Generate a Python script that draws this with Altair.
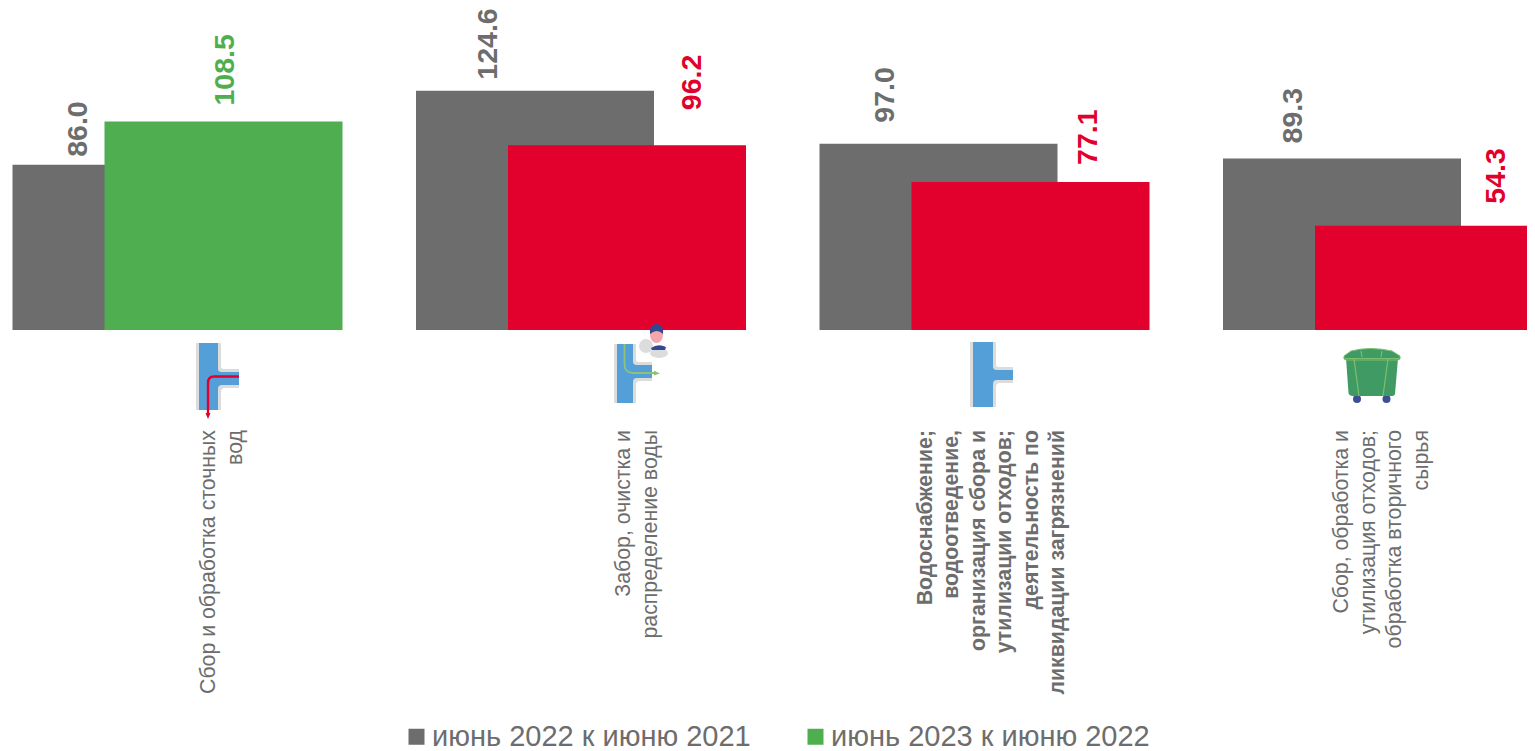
import base64
import altair as alt
import pandas as pd

categories = [
    "Сбор и обработка сточных\nвод",
    "Забор, очистка и\nраспределение воды",
    "Водоснабжение;\nводоотведение,\nорганизация сбора и\nутилизации отходов;\nдеятельность по\nликвидации загрязнений",
    "Сбор, обработка и\nутилизация отходов;\nобработка вторичного\nсырья",
]
series_a = [86.0, 124.6, 97.0, 89.3]
series_b = [108.5, 96.2, 77.1, 54.3]
name_a = "июнь 2022 к июню 2021"
name_b = "июнь 2023 к июню 2022"
name_down = "снижение"

GRAY, GREEN, RED = "#6d6d6d", "#4fae50", "#e2002c"
TEXT = "#6d6d6d"

# layout only: nudges of each label relative to its group's centre, (x, y above bar top)
NUDGE_A = [(-100, 8), (-93, 11), (-99.5, 21), (-95, 15)]
NUDGE_B = [(47, 16), (111, 35), (103, 17), (108, 22)]
CAT_NUDGE = [31.5, 43, -59, -46]
BAR_W, SHIFT = 238, 46
W, H, BASE = 1519, 743, 322
PX = 1.921


def svg(mid, body):
    s = (f'<svg xmlns="http://www.w3.org/2000/svg" width="200" height="105" '
         f'viewBox="{mid-100} 320 200 105">{body}</svg>')
    return "data:image/svg+xml;base64," + base64.b64encode(s.encode()).decode()


def tee(x0, x1, y0, y1, by0, by1, bx):
    halo = (f'<path d="M{x0-3} {y0} H{x1+3} V{by0-5} Q{x1+3} {by0-3} {x1+7} {by0-3} H{bx} V{by1+3} '
            f'H{x1+7} Q{x1+3} {by1+3} {x1+3} {by1+7} V{y1} H{x0-3} Z" fill="#dcdcdc"/>')
    pipe = (f'<path d="M{x0} {y0} H{x1} V{by0-3} Q{x1} {by0} {x1+4} {by0} H{bx} V{by1} '
            f'H{x1+4} Q{x1} {by1} {x1} {by1+4} V{y1} H{x0} Z" fill="#559fd9"/>')
    return halo + pipe


icon1 = svg(177.5, tee(199, 218, 343, 410, 372, 385, 239) +
            '<path d="M239 376.5 H214 Q208 376.5 208 383 V414" fill="none" stroke="#e2002c" stroke-width="2.4"/>'
            '<path d="M205.5 413 H210.5 L208 419 Z" fill="#e2002c"/>')
icon2 = svg(581, tee(617, 633, 344, 403, 365, 378, 652) +
            '<path d="M624.5 344 V364 Q624.5 373 633 373 H656" fill="none" stroke="#8cc474" stroke-width="1.8"/>'
            '<path d="M654 370.5 L660 373.5 L654 375.5 Z" fill="#8cc474"/>'
            '<ellipse cx="646" cy="346" rx="7" ry="7" fill="#dcdcdc"/>'
            '<ellipse cx="659" cy="353" rx="9" ry="5" fill="#dcdcdc"/>'
            '<path d="M651 348 Q658 343 666 347 L665 350 H652 Z" fill="#2f4a8f"/>'
            '<ellipse cx="656.5" cy="335" rx="6.5" ry="8" fill="#f5a6ad"/>'
            '<path d="M650 334 Q649 324 656.5 324 Q664 324 663 334 Q657 328 650 334 Z" fill="#2f4a8f"/>')
icon3 = svg(984.5, tee(973, 993, 342, 407, 370, 380, 1013))
icon4 = svg(1388, '<circle cx="1357" cy="399" r="4" fill="#3d4f94"/><circle cx="1386.5" cy="399" r="4" fill="#3d4f94"/>'
            '<path d="M1346 358 H1398 L1395 394 Q1394.500 396 1391 396 H1353 Q1349 396 1348.500 393 Z" fill="#3f9a63"/>'
            '<path d="M1344 356 L1351 351 Q1370 346 1392 351 L1400 356 V359 L1398 360 H1346 L1344 359 Z" fill="#3f9a63" stroke="#7cc06e" stroke-width="1"/>'
            '<path d="M1345 358.500 H1399 M1354 359 L1359 396 M1388 359 L1383 396 M1361 351 L1362 357 M1382 351 L1381 357" '
            'fill="none" stroke="#7cc06e" stroke-width="1.2"/>')
icons = [icon1, icon2, icon3, icon4]

order = list(range(4))
df_a = pd.DataFrame({"g": order, "v": series_a, "s": name_a, "t": [f"{v:.1f}" for v in series_a]})
df_b = pd.DataFrame({"g": order, "v": series_b,
                     "s": [name_b if v >= 100 else name_down for v in series_b],
                     "t": [f"{v:.1f}" for v in series_b]})
df_c = pd.DataFrame({"g": order, "c": categories, "icon": icons})

x = alt.X("g:O", axis=None, scale=alt.Scale(type="point", range=[169.5, 1380], padding=0))
y = alt.Y("v:Q", axis=None, scale=alt.Scale(domain=[(BASE - H) / PX, BASE / PX], range=[H, 0], nice=False, zero=False))
color = alt.Color("s:N", scale=alt.Scale(domain=[name_a, name_b, name_down], range=[GRAY, GREEN, RED]),
                  legend=alt.Legend(values=[name_a, name_b], orient="none", legendX=394, legendY=714,
                                    direction="horizontal", columns=2, title=None, symbolType="square",
                                    symbolSize=256, symbolStrokeWidth=0, symbolOpacity=1,
                                    labelFont="Liberation Sans", labelFontSize=29, labelColor=TEXT,
                                    labelOffset=1, columnPadding=50, labelLimit=500, padding=0))

layers = [
    alt.Chart(df_a).mark_bar(width=BAR_W, xOffset=-SHIFT, clip=True).encode(x=x, y=y, color=color),
    alt.Chart(df_b).mark_bar(width=BAR_W, xOffset=SHIFT, clip=True).encode(x=x, y=y, color=color),
]


def value_label(df, i, nudge, col):
    return alt.Chart(df.iloc[[i]]).mark_text(
        angle=270, align="left", baseline="middle", font="Liberation Sans", fontWeight="bold",
        fontSize=28.5, color=col, xOffset=nudge[0], yOffset=-nudge[1]).encode(x=x, y=y, text="t:N")


for i in order:
    layers.append(value_label(df_a, i, NUDGE_A[i], GRAY))
    layers.append(value_label(df_b, i, NUDGE_B[i], GREEN if series_b[i] >= 100 else RED))
    layers.append(alt.Chart(df_c.iloc[[i]]).mark_text(
        angle=270, align="right", baseline="middle", lineBreak="\n", lineHeight=26.5,
        font="Liberation Sans", fontSize=21.3, fontWeight="bold" if i == 2 else "normal",
        color=TEXT, xOffset=CAT_NUDGE[i]).encode(x=x, y=alt.value(422), text="c:N"))

layers.append(alt.Chart(df_c).mark_image(width=200, height=105, align="center", baseline="top").encode(
    x=x, y=alt.value(312), url="icon:N"))

chart = alt.layer(*layers).properties(
    width=W, height=H, padding=0, autosize=alt.AutoSizeParams(type="none")
).configure_view(stroke=None).resolve_scale(color="shared")

chart.save("out.html", embed_options={"renderer": "svg", "actions": False})
